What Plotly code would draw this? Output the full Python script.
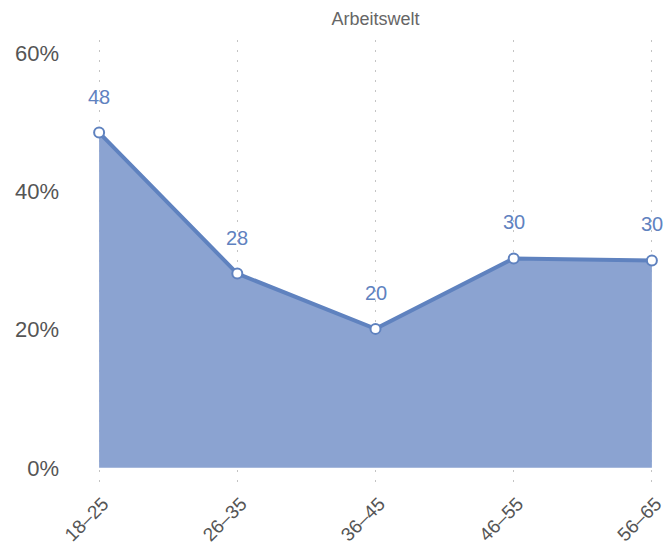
import plotly.graph_objects as go

categories = ["18–25", "26–35", "36–45", "46–55", "56–65"]
values = [48.5, 28.1, 20.1, 30.3, 30.0]
labels = ["48", "28", "20", "30", "30"]
y_ticks = [0, 20, 40, 60]
y_tick_text = ["0%", "20%", "40%", "60%"]

line_color = "#5F82BF"
fill_color = "#8BA3D1"
font_family = "Liberation Sans"

fig = go.Figure()
fig.add_trace(go.Scatter(
    x=categories, y=values, mode="lines+markers",
    fill="tozeroy", fillcolor=fill_color,
    line=dict(color=line_color, width=4),
    marker=dict(size=10, color="white", line=dict(color=line_color, width=2)),
    cliponaxis=False, hoverinfo="skip",
))

for c, v, t in zip(categories, values, labels):
    fig.add_annotation(x=c, y=v, text=t, showarrow=False, yshift=36,
                       font=dict(family=font_family, size=20, color=line_color))

fig.update_layout(
    width=665, height=542,
    margin=dict(l=98, r=12, t=40, b=59, autoexpand=False),
    paper_bgcolor="white", plot_bgcolor="white",
    showlegend=False,
    title=dict(text="Arbeitswelt", x=0.5, xref="paper", xanchor="center",
               y=1 - 19/542, yanchor="middle",
               font=dict(family=font_family, size=18, color="#666666")),
    xaxis=dict(
        type="category", range=[-0.008, 4.008],
        showgrid=True, gridcolor="#C4C4C4", griddash="2px,8px", gridwidth=1,
        zeroline=False, showline=False, ticks="",
        tickangle=-45, automargin=False, ticklabelstandoff=5, ticklabelshift=4,
        tickfont=dict(family=font_family, size=19, color="#555555"),
    ),
    yaxis=dict(
        range=[-2.2, 61.9],
        tickvals=y_ticks, ticktext=y_tick_text,
        showgrid=False, zeroline=False, showline=False, ticks="",
        ticklabelstandoff=38, automargin=False,
        tickfont=dict(family=font_family, size=22, color="#555555"),
    ),
)

fig.write_html("out.html", config={"displayModeBar": False},
               post_script="document.body.style.margin='0';document.body.style.overflow='hidden';")
